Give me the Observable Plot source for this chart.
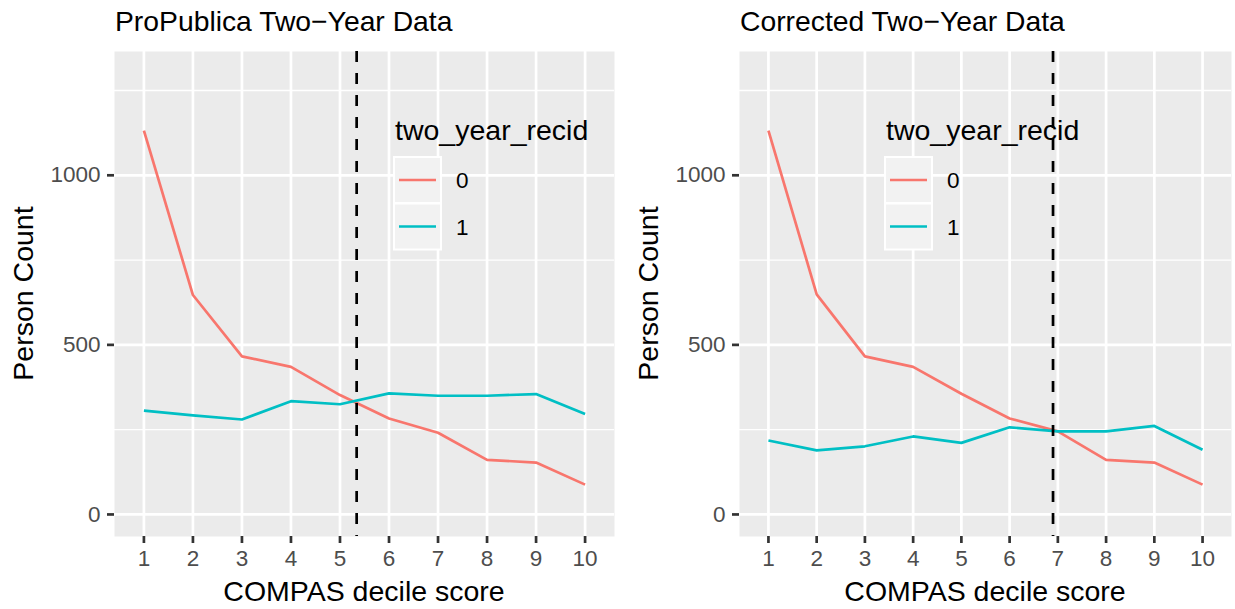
<!DOCTYPE html>
<html>
<head>
<meta charset="utf-8">
<script src="https://cdn.jsdelivr.net/npm/d3@7"></script>
<script src="https://cdn.jsdelivr.net/npm/@observablehq/plot@0.6"></script>
<style>
  html, body { margin: 0; padding: 0; background: #fff; }
  #wrap { position: relative; width: 1235px; height: 609px; overflow: hidden; font-family: "Liberation Sans", Arial, sans-serif; }
  #wrap > svg, #wrap > figure { position: absolute; top: 0; margin: 0; }
</style>
</head>
<body>
<div id="wrap"></div>
<script>
// ---- data ----
const scores = [1, 2, 3, 4, 5, 6, 7, 8, 9, 10];
const propublicaNotRecid = [1132, 647, 466, 435, 352, 283, 241, 161, 153, 88];
const propublicaRecid    = [306, 292, 280, 334, 325, 357, 350, 350, 355, 296];
const correctedNotRecid  = [1132, 649, 466, 435, 356, 283, 245, 161, 153, 88];
const correctedRecid     = [218, 189, 201, 230, 211, 257, 245, 245, 261, 191];
const propublicaCutoff = 5.34;
const correctedCutoff = 6.9;
const recidLevels = ["0", "1"];
const recidColors = ["#F8766D", "#00BFC4"];
const yMajor = [0, 500, 1000];
const yMinor = [250, 750, 1250];
const panelTitles = ["ProPublica Two\u2212Year Data", "Corrected Two\u2212Year Data"];
const xTitle = "COMPAS decile score";
const yTitle = "Person Count";
const legendTitle = "two_year_recid";

const wrap = document.getElementById("wrap");

function panel(notRecid, recid, cutoff, width, ml, mr) {
  const rows = scores.flatMap((s, i) => [
    {score: s, count: notRecid[i], recid: recidLevels[0]},
    {score: s, count: recid[i], recid: recidLevels[1]}
  ]);
  return Plot.plot({
    width, height: 609,
    marginLeft: ml, marginRight: mr, marginTop: 51, marginBottom: 73,
    style: {background: "transparent", fontFamily: "Liberation Sans, Arial, sans-serif", fontSize: "22.5px", overflow: "visible"},
    x: {domain: [0.4, 10.6], axis: null},
    y: {domain: [-65, 1365], axis: null},
    color: {domain: recidLevels, range: recidColors},
    marks: [
      Plot.frame({fill: "#EBEBEB", stroke: null}),
      Plot.gridY(yMinor, {stroke: "white", strokeOpacity: 1, strokeWidth: 1.35}),
      Plot.gridY(yMajor, {stroke: "white", strokeOpacity: 1, strokeWidth: 2.7}),
      Plot.gridX(scores, {stroke: "white", strokeOpacity: 1, strokeWidth: 2.7}),
      Plot.axisX(scores, {tickSize: 7, tickPadding: 7, stroke: "#333333", strokeWidth: 2.7, fill: "#4D4D4D", fontSize: 22.5, label: null, tickFormat: d => String(d)}),
      Plot.axisY(yMajor, {tickSize: 7, tickPadding: 7, stroke: "#333333", strokeWidth: 2.7, fill: "#4D4D4D", fontSize: 22.5, label: null, tickFormat: d => String(d)}),
      Plot.line(rows, {x: "score", y: "count", z: "recid", stroke: "recid", strokeWidth: 2.7, strokeLinejoin: "round", strokeLinecap: "butt"}),
      Plot.ruleX([cutoff], {stroke: "black", strokeWidth: 2.7, strokeDasharray: "11,11"})
    ]
  });
}

const left = panel(propublicaNotRecid, propublicaRecid, propublicaCutoff, 620, 114, 6);
left.style.left = "0px";
wrap.appendChild(left);
const right = panel(correctedNotRecid, correctedRecid, correctedCutoff, 615, 119, 4);
right.style.left = "620px";
wrap.appendChild(right);

// ---- overlay: titles, axis titles, legends ----
const ov = d3.select(wrap).append("svg")
  .attr("width", 1235).attr("height", 609)
  .style("left", "0px").style("pointer-events", "none")
  .attr("font-family", "Liberation Sans, Arial, sans-serif");

const panels = [
  {x0: 114, x1: 614, title: panelTitles[0], yTitleX: 33.3, legendX: 394},
  {x0: 739, x1: 1231, title: panelTitles[1], yTitleX: 658, legendX: 885}
];
const pTop = 51, pBot = 536;

panels.forEach(p => {
  ov.append("text").attr("x", p.x0 + 1).attr("y", 31).attr("font-size", 28.3).attr("fill", "black").text(p.title);
  ov.append("text").attr("x", (p.x0 + p.x1) / 2).attr("y", 601).attr("text-anchor", "middle")
    .attr("font-size", 28.5).attr("fill", "black").text(xTitle);
  ov.append("text").attr("transform", `translate(${p.yTitleX},${(pTop + pBot) / 2}) rotate(-90)`)
    .attr("text-anchor", "middle").attr("font-size", 28.5).attr("fill", "black").text(yTitle);

  const lg = ov.append("g").attr("transform", `translate(${p.legendX},0)`);
  lg.append("text").attr("x", 1).attr("y", 140).attr("font-size", 28.5).attr("fill", "black").text(legendTitle);
  recidLevels.forEach((lv, i) => {
    const ky = 157 + i * 46.5;
    lg.append("rect").attr("x", 0).attr("y", ky).attr("width", 47).attr("height", 46)
      .attr("fill", "#F2F2F2").attr("stroke", "white").attr("stroke-width", 2);
    lg.append("line").attr("x1", 5).attr("x2", 42).attr("y1", ky + 23).attr("y2", ky + 23)
      .attr("stroke", recidColors[i]).attr("stroke-width", 2.7);
    lg.append("text").attr("x", 62).attr("y", ky + 23 + 8.2).attr("font-size", 22.5).attr("fill", "black").text(lv);
  });
});
</script>
</body>
</html>
